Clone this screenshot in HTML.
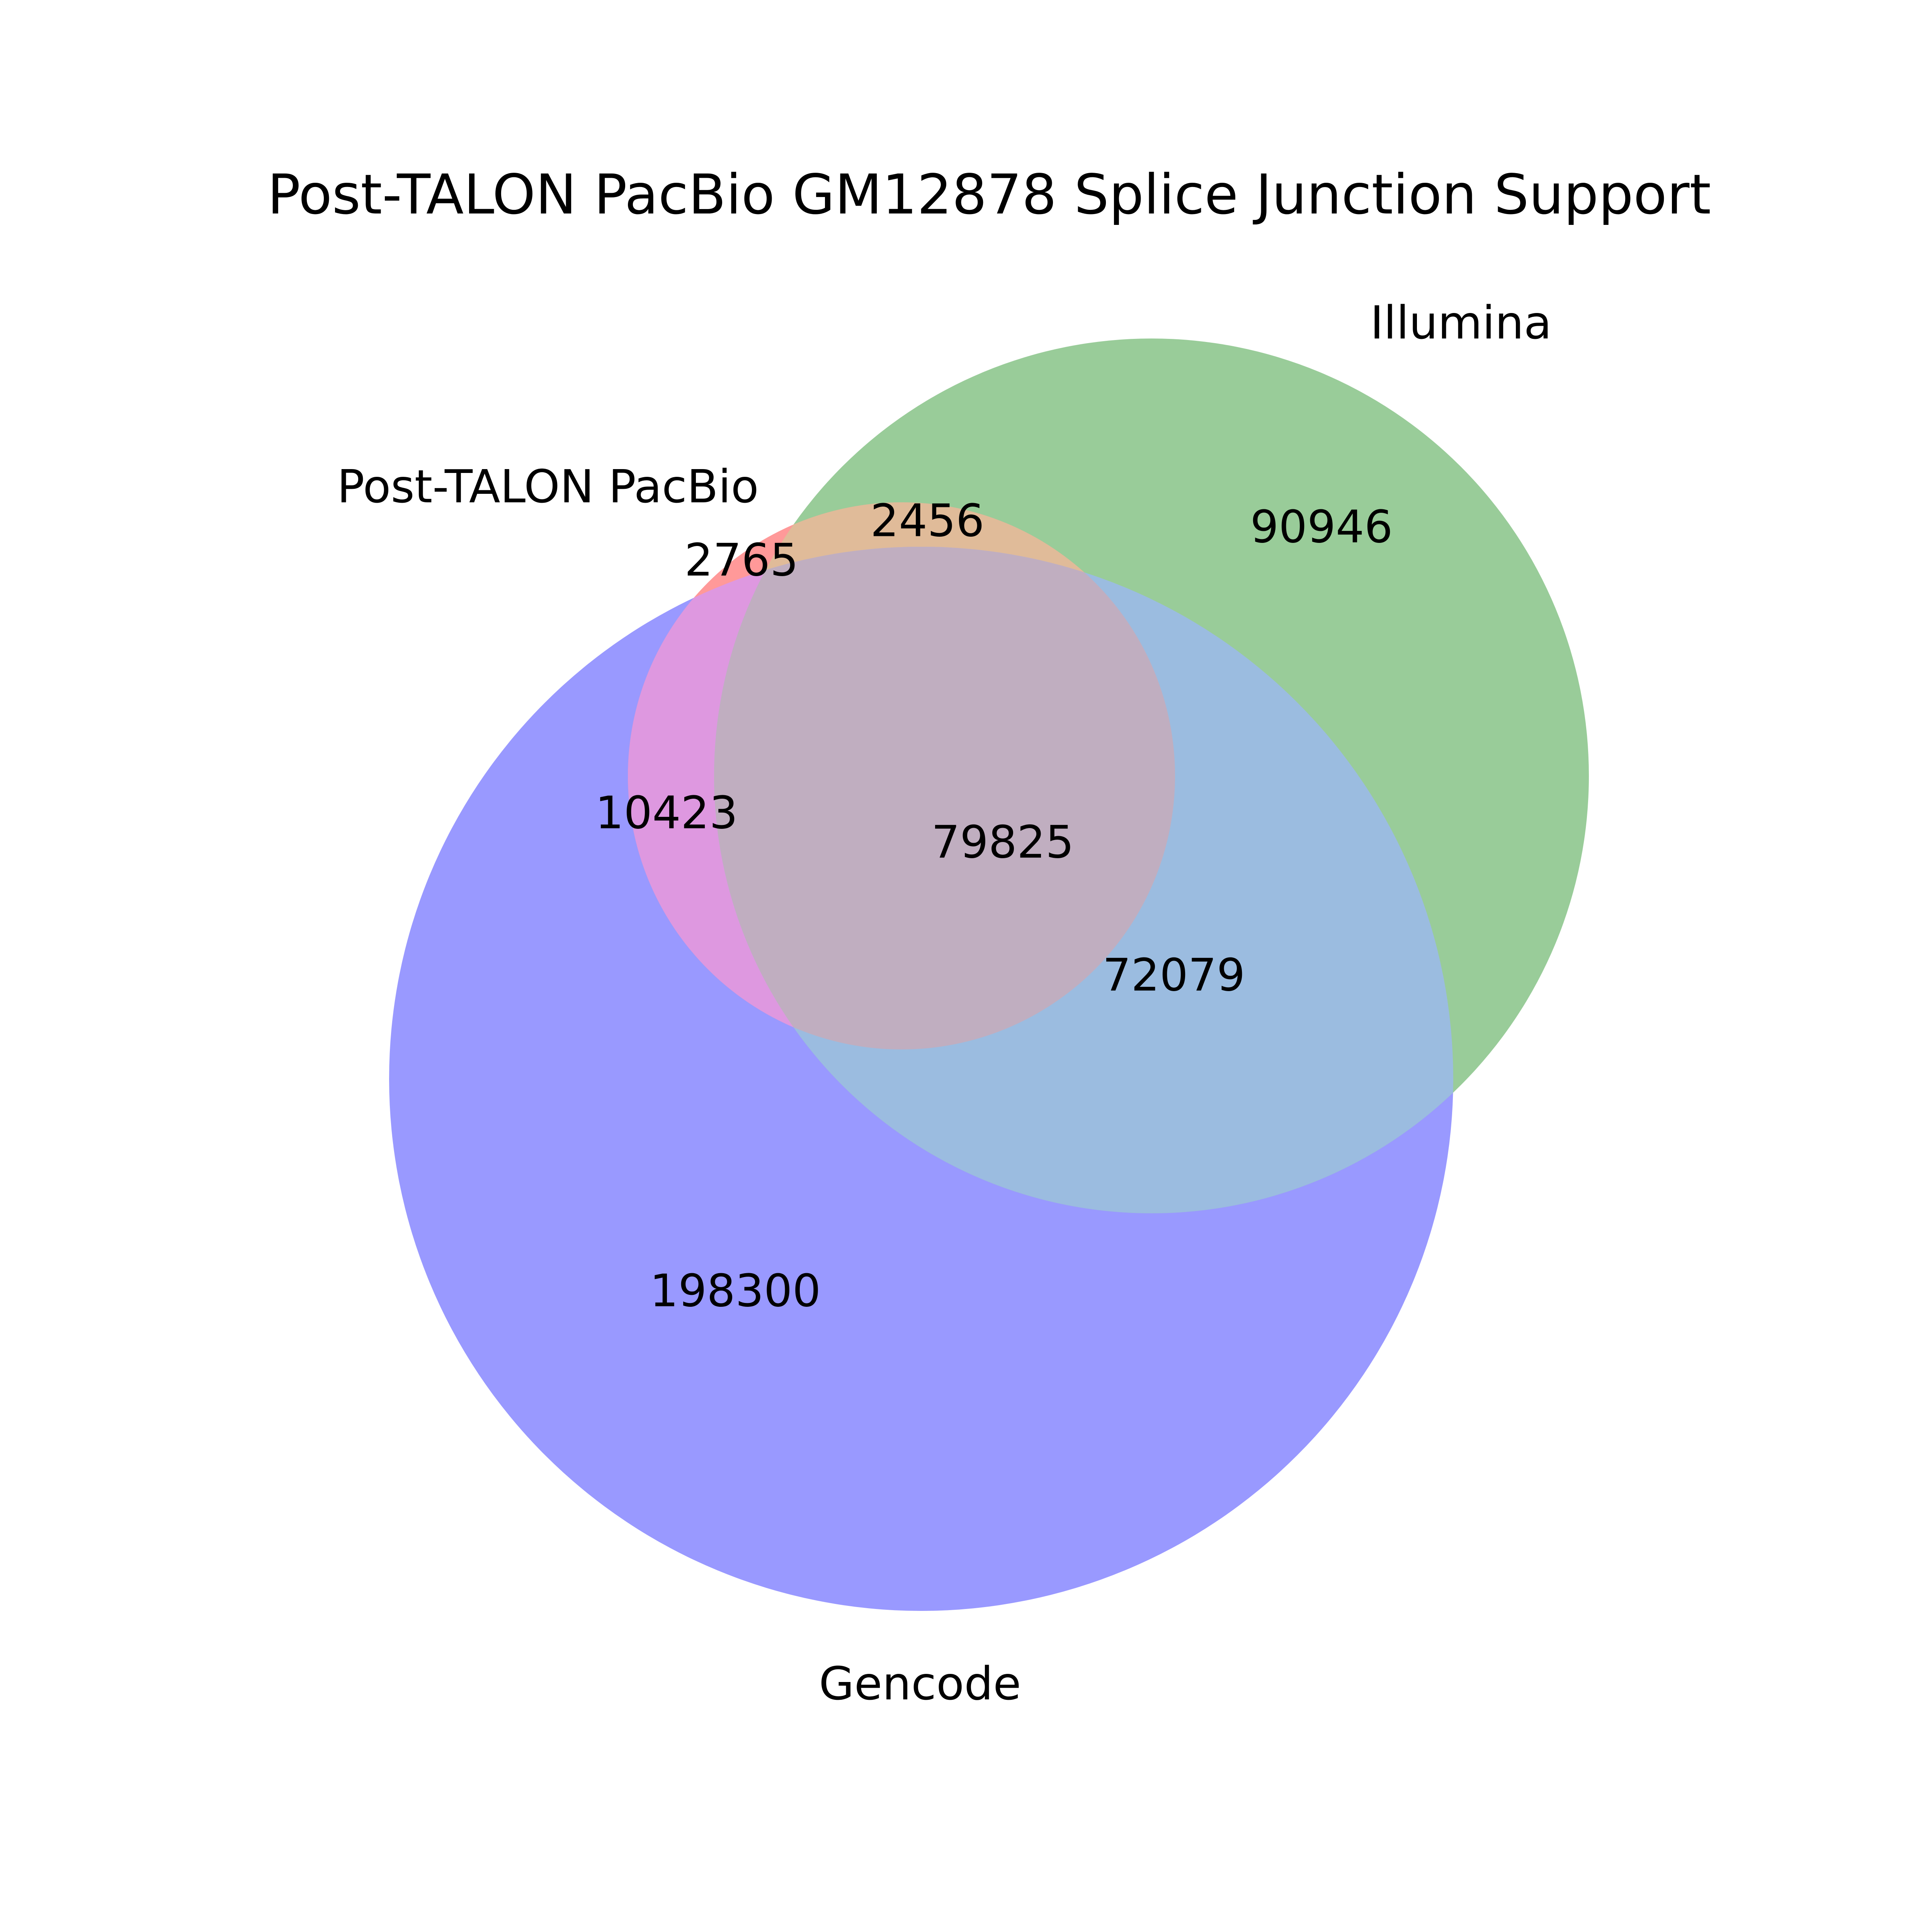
<!DOCTYPE html>
<html><head><meta charset="utf-8"><style>
html,body{margin:0;padding:0;background:#fff;overflow:hidden;width:5100px;height:5100px;}
svg{display:block;}
svg text{font-family:"DejaVu Sans","Liberation Sans",sans-serif;fill:#000;}
</style></head><body>
<svg id="chart" width="5100" height="5100" viewBox="0 0 5100 5100" xmlns="http://www.w3.org/2000/svg">
<rect width="5100" height="5100" fill="#fff"/>
<defs>
<clipPath id="cR"><circle cx="2333" cy="2008" r="708"/></clipPath>
<clipPath id="cG"><circle cx="2980" cy="2008" r="1132"/></clipPath>
<clipPath id="cB"><circle cx="2384" cy="2792" r="1377"/></clipPath>
</defs>
<g id="circles"></g>
<g id="labels"></g>
</svg>
<script>
const setNames = ["Post-TALON PacBio", "Illumina", "Gencode"];
const regionLabels = ["100", "010", "110", "001", "101", "011", "111"];
const regionCounts = [2765, 90946, 2456, 198300, 10423, 72079, 79825];

const NS = "http://www.w3.org/2000/svg";
const circ = {R:[2333,2008,708], G:[2980,2008,1132], B:[2384,2792,1377]};
const g = document.getElementById("circles");
function circle(key, fill, clip, clip2, name){
  let parent = g;
  if(clip){
    const gg = document.createElementNS(NS,"g");
    gg.setAttribute("clip-path","url(#"+clip+")");
    
    
    g.appendChild(gg); parent = gg;
    if(clip2){
      const g2 = document.createElementNS(NS,"g");
      g2.setAttribute("clip-path","url(#"+clip2+")");
      
      
      gg.appendChild(g2); parent = g2;
    }
  }
  const c = document.createElementNS(NS,"circle");
  c.setAttribute("cx",circ[key][0]); c.setAttribute("cy",circ[key][1]); c.setAttribute("r",circ[key][2]);
  c.setAttribute("fill",fill);
  
  
  parent.appendChild(c);
}
circle("B","#9999ff",null,null,"gencode-region");
circle("G","#99cc99",null,null,"illumina-region");
circle("R","#ff9999",null,null,"pacbio-region");
circle("G","#e0bb99","cR",null,"pacbio-illumina-region");
circle("B","#de98e0","cR",null,"pacbio-gencode-region");
circle("B","#9bbce0","cG",null,"illumina-gencode-region");
circle("B","#c0aec0","cR","cG","all-three-region");

const L = document.getElementById("labels");
function text(x,y,s,size,name){
  const t = document.createElementNS(NS,"text");
  t.setAttribute("x",x); t.setAttribute("y",y);
  t.setAttribute("font-size",size);
  t.setAttribute("text-anchor","middle");
  t.setAttribute("dominant-baseline","central");
  t.textContent = s;
  
  
  L.appendChild(t);
}
text(2560,504,"Post-TALON PacBio GM12878 Splice Junction Support",142,"chart-title");
text(1418,1259,setNames[0],118,"set-label-pacbio");
text(3781,835,setNames[1],118,"set-label-illumina");
text(2381,4357,setNames[2],118,"set-label-gencode");
const pos = {"100":[1919,1450],"010":[3420,1364],"110":[2400,1348],"001":[1903,3341],"101":[1725,2104],"011":[3038,2524],"111":[2595,2180]};
regionLabels.forEach((k,i)=>text(pos[k][0],pos[k][1],String(regionCounts[i]),116,"count-"+k));
</script>
</body></html>
